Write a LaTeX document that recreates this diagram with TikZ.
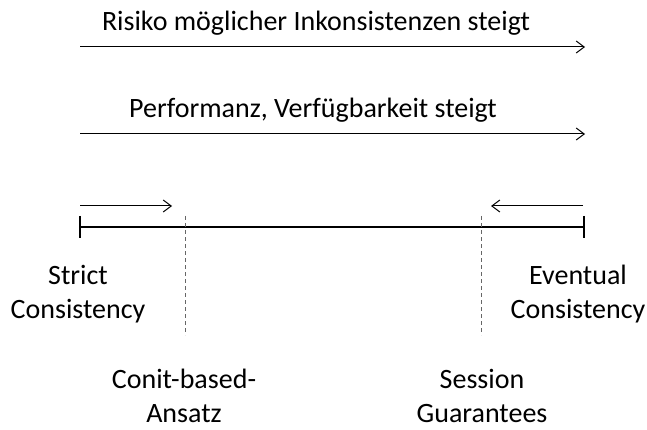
\documentclass[tikz,border=0pt]{standalone}
\usepackage{fontspec}
\setmainfont{Carlito}
\usetikzlibrary{arrows.meta}
\begin{document}
\begin{tikzpicture}[x=1pt,y=-1pt,
  lbl/.style={font=\fontsize{28}{34}\selectfont, inner sep=0pt, align=center, anchor=base},
  arr/.style={line width=1pt, -{Straight Barb[length=8pt,width=12pt]}},
  axis/.style={line width=2pt},
  guide/.style={draw=gray!80!black, line width=1pt, dash pattern=on 4pt off 3pt}]
\useasboundingbox (0,0) rectangle (647,430);
% top arrows
\coordinate (r1s) at (80,47);
\coordinate (r1e) at (585,47);
\draw[arr] (r1s) -- (r1e);
\node[lbl] (risk) at (316,31) {Risiko möglicher Inkonsistenzen steigt};
\coordinate (p1s) at (80,134);
\coordinate (p1e) at (585,134);
\draw[arr] (p1s) -- (p1e);
\node[lbl] (perf) at (313,118) {Performanz, Verfügbarkeit steigt};
% small arrows
\coordinate (las) at (80,206);
\coordinate (lae) at (172,206);
\draw[arr] (las) -- (lae);
\coordinate (ras) at (583,206);
\coordinate (rae) at (491,206);
\draw[arr] (ras) -- (rae);
% axis
\coordinate (al) at (80,227);
\coordinate (ar) at (584,227);
\draw[axis] (al) -- (ar);
\draw[axis] (80,216) -- (80,238);
\draw[axis] (584,216) -- (584,238);
% dashed guides
\coordinate (g1t) at (185,216);
\coordinate (g1b) at (185,335);
\draw[guide] (g1t) -- (g1b);
\coordinate (g2t) at (481,216);
\coordinate (g2b) at (481,335);
\draw[guide] (g2t) -- (g2b);
% labels
\node[lbl] (strict) at (78,318) {Strict\\Consistency};
\node[lbl] (event) at (578,318) {Eventual\\Consistency};
\node[lbl] (conit) at (184,422) {Conit-based-\\Ansatz};
\node[lbl] (sess) at (482,422) {Session\\Guarantees};
\end{tikzpicture}
\end{document}
